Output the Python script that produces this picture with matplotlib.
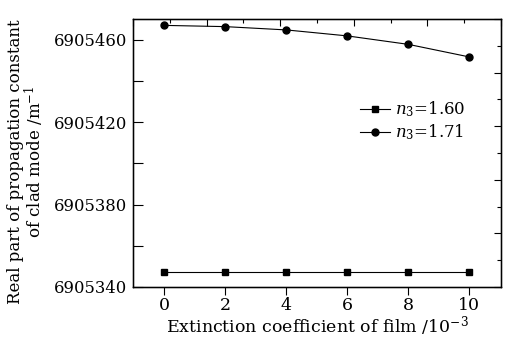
import matplotlib
matplotlib.use("Agg")
import matplotlib.pyplot as plt
from matplotlib.ticker import MultipleLocator, FixedLocator, NullFormatter

# Extinction coefficient of the film (units of 1e-3)
kappa = [0, 2, 4, 6, 8, 10]

# Real part of the clad-mode propagation constant (m^-1)
beta_160 = [6905347.5, 6905347.5, 6905347.5, 6905347.5, 6905347.5, 6905347.5]
beta_171 = [6905466.9, 6905466.3, 6905464.7, 6905461.8, 6905457.7, 6905451.6]

y_ticks = [6905340, 6905380, 6905420, 6905460]
labels = [r"$n_3$=1.60", r"$n_3$=1.71"]

plt.rcParams["font.family"] = ["DejaVu Serif"]
plt.rcParams["mathtext.fontset"] = "dejavuserif"

fig = plt.figure(figsize=(5.11, 3.42), dpi=100)
ax = fig.add_axes([133 / 511, 1 - 287 / 342, (501 - 133) / 511, (287 - 19) / 342])

ax.plot(kappa, beta_160, color="black", lw=0.8, marker="s", ms=4.2, label=labels[0])
ax.plot(kappa, beta_171, color="black", lw=0.8, marker="o", ms=5, label=labels[1])

ax.set_xlim(-1.03, 11.04)
ax.set_ylim(6905340, 6905470)
ax.xaxis.set_major_locator(FixedLocator(kappa))
ax.yaxis.set_major_locator(FixedLocator(y_ticks))
ax.yaxis.set_minor_locator(MultipleLocator(20))
ax.ticklabel_format(axis="y", useOffset=False, style="plain")

ax.tick_params(axis="x", direction="out", length=6, width=0.8, labelsize=12.5, pad=1)
ax.tick_params(axis="y", which="both", direction="in", length=7, width=0.8, labelsize=11.8, pad=4)
ax.tick_params(top=False, right=False)

for s in ax.spines.values():
    s.set_linewidth(1.0)

ax.set_xlabel(r"Extinction coefficient of film /10$^{-3}$", fontsize=12.5, labelpad=0)
ax.set_ylabel("Real part of propagation constant\nof clad mode /m$^{-1}$",
              fontsize=12, linespacing=0.95)
ax.yaxis.set_label_coords(-0.236, 0.466)

# Unlabelled fractional scales on the top and right frame
top = ax.twiny()
top.set_xlim(0, 1)
top.xaxis.set_major_locator(MultipleLocator(0.2))
top.xaxis.set_minor_locator(MultipleLocator(0.1))
top.xaxis.set_major_formatter(NullFormatter())
top.tick_params(axis="x", which="major", direction="in", length=5, width=0.8)
top.tick_params(axis="x", which="minor", direction="in", length=3, width=0.8)

right = ax.twinx()
right.set_ylim(0, 1)
right.yaxis.set_major_locator(MultipleLocator(0.2))
right.yaxis.set_minor_locator(MultipleLocator(0.1))
right.yaxis.set_major_formatter(NullFormatter())
right.tick_params(axis="y", which="major", direction="in", length=5, width=0.8)
right.tick_params(axis="y", which="minor", direction="in", length=3, width=0.8)

ax.legend(loc="upper left", frameon=False,
          fontsize=12, handlelength=1.8, handletextpad=0.3,
          labelspacing=0.2, borderpad=0.2)
leg = ax.get_legend()
leg.set_bbox_to_anchor((215 / 368, 1 - 69 / 268), transform=ax.transAxes)

fig.savefig("out.png", dpi=100)
